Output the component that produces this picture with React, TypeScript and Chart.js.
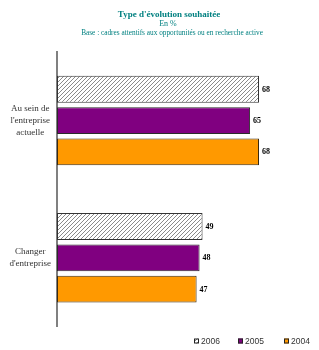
import { useEffect, useRef } from 'react';
import { Chart, registerables } from 'chart.js';

Chart.register(...registerables);

const categories = [['Au sein de', "l'entreprise", 'actuelle'], ['Changer', "d'entreprise"]];
const seriesLabels = ['2006', '2005', '2004'];
const values2006 = [68, 49];
const values2005 = [65, 48];
const values2004 = [68, 47];
const titleText = "Type d'évolution souhaitée";
const subtitleText = 'En %';
const baseText = 'Base : cadres attentifs aux opportunités ou en recherche active';

const TEAL = '#008080';
const SERIF = '"Liberation Serif", "Times New Roman", serif';
const SANS = '"Liberation Sans", Arial, sans-serif';

function makeHatch(): CanvasPattern | string {
  const c = document.createElement('canvas');
  c.width = 4;
  c.height = 4;
  const g = c.getContext('2d');
  if (!g) return '#ccc';
  g.fillStyle = '#ffffff';
  g.fillRect(0, 0, 4, 4);
  g.strokeStyle = '#8a8a8a';
  g.lineWidth = 1;
  g.beginPath();
  g.moveTo(-1, 5);
  g.lineTo(5, -1);
  g.moveTo(-1, 1);
  g.lineTo(1, -1);
  g.moveTo(3, 5);
  g.lineTo(5, 3);
  g.stroke();
  const p = g.createPattern(c, 'repeat');
  return p || '#ccc';
}

export default function App() {
  const ref = useRef<HTMLCanvasElement | null>(null);

  useEffect(() => {
    document.body.style.margin = '0';
    const canvas = ref.current;
    if (!canvas) return;
    const hatch = makeHatch();
    const fills = [hatch, '#800080', '#FF9900'];
    const borders = ['#333333', '#2a2a2a', '#3a2a10'];
    const series = [values2006, values2005, values2004];

    const titlePlugin = {
      id: 'titles',
      afterDraw(chart: any) {
        const ctx = chart.ctx;
        ctx.save();
        ctx.fillStyle = TEAL;
        ctx.textAlign = 'center';
        ctx.textBaseline = 'middle';
        ctx.font = `bold 9px ${SERIF}`;
        ctx.fillText(titleText, 169, 15);
        ctx.font = `8px ${SERIF}`;
        ctx.fillText(subtitleText, 168, 24);
        ctx.font = `7.3px ${SERIF}`;
        ctx.fillText(baseText, 172, 33.5);
        ctx.restore();
      },
    };

    const valueLabels = {
      id: 'valueLabels',
      afterDatasetsDraw(chart: any) {
        const ctx = chart.ctx;
        ctx.save();
        ctx.fillStyle = '#000';
        ctx.font = `bold 8px ${SERIF}`;
        ctx.textAlign = 'left';
        ctx.textBaseline = 'middle';
        chart.data.datasets.forEach((ds: any, i: number) => {
          const meta = chart.getDatasetMeta(i);
          meta.data.forEach((bar: any, j: number) => {
            ctx.fillText(String(ds.data[j]), bar.x + 3, bar.y + 0.5);
          });
        });
        ctx.restore();
      },
    };

    const legendPlugin = {
      id: 'customLegend',
      afterDraw(chart: any) {
        const ctx = chart.ctx;
        const xs = [194, 238, 284];
        const y = 341;
        ctx.save();
        chart.data.datasets.forEach((ds: any, i: number) => {
          const x = xs[i];
          ctx.fillStyle = ds.backgroundColor;
          ctx.fillRect(x, y - 2.5, 5, 5);
          ctx.strokeStyle = '#222';
          ctx.lineWidth = 1;
          ctx.strokeRect(x + 0.5, y - 2, 4, 4);
          ctx.fillStyle = '#333';
          ctx.font = `8.5px ${SANS}`;
          ctx.textAlign = 'left';
          ctx.textBaseline = 'middle';
          ctx.fillText(ds.label, x + 7, y + 0.5);
        });
        ctx.restore();
      },
    };

    const chart = new Chart(canvas, {
      type: 'bar',
      data: {
        labels: categories as any,
        datasets: seriesLabels.map((label, i) => ({
          label,
          data: series[i],
          backgroundColor: fills[i] as any,
          borderColor: borders[i],
          borderWidth: 1,
          borderSkipped: false,
          categoryPercentage: 0.684,
          barPercentage: 0.86,
        })),
      },
      options: {
        indexAxis: 'y',
        animation: false,
        responsive: false,
        maintainAspectRatio: false,
        layout: { padding: { top: 52, bottom: 13, left: 0, right: 9.5 } },
        plugins: {
          legend: { display: false },
          title: { display: false },
          tooltip: { enabled: false },
        },
        scales: {
          x: {
            display: false,
            min: 0,
            max: 85,
          },
          y: {
            grid: { display: false, drawTicks: false },
            border: { display: true, color: '#808080', width: 2 },
            ticks: {
              color: '#333',
              font: { family: SERIF, size: 9, lineHeight: 1.3 },
              crossAlign: 'center',
              padding: 6,
            },
            afterFit(scale: any) {
              scale.width = 57;
            },
          },
        },
      },
      plugins: [titlePlugin, valueLabels, legendPlugin],
    } as any);

    return () => chart.destroy();
  }, []);

  return (
    <div style={{ width: 319, height: 350 }}>
      <canvas ref={ref} width={319} height={350} style={{ display: 'block' }} />
    </div>
  );
}
